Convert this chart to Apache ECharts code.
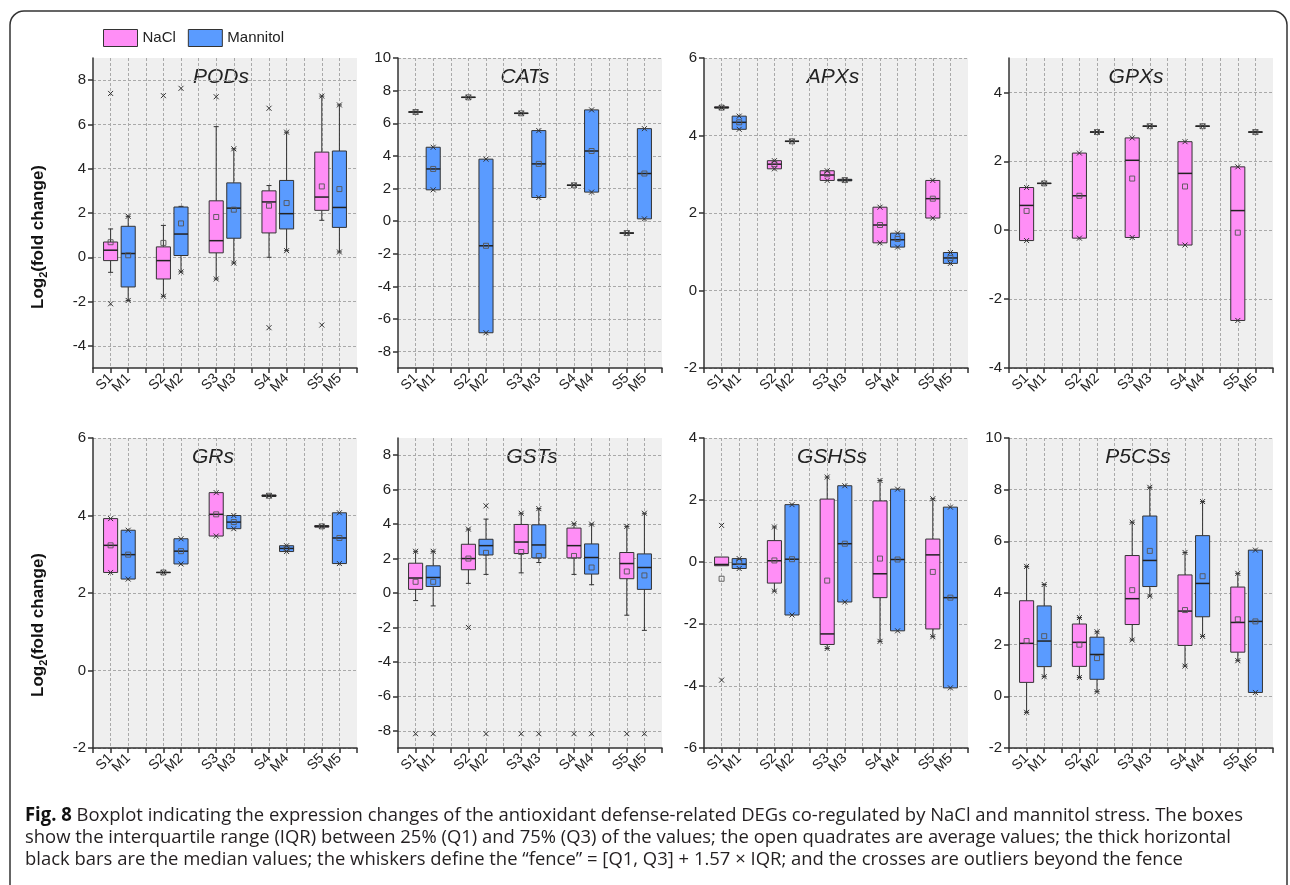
<!DOCTYPE html>
<html lang="en">
<head>
<meta charset="UTF-8" />
<title>Fig. 8</title>
<script src="https://cdn.jsdelivr.net/npm/echarts@6/dist/echarts.min.js"></script>
<style>html,body{margin:0;background:#fff;}#chart{width:1290px;height:885px;}</style>
</head>
<body>
<div id="chart"></div>
<script>
// x positions: S/M pairs with an empty slot between groups
const categories = ['', 'S1', 'M1', '', 'S2', 'M2', '', 'S3', 'M3', '', 'S4', 'M4', '', 'S5', 'M5', ''];
const legendNames = ['NaCl', 'Mannitol'];
const fills = ['#ff8ef6', '#5a9bff'];

// rows S1, M1, S2, M2 ... S5, M5 : [whisker low, Q1, median, Q3, whisker high, mean]
const pods = [
  [-0.68, -0.15, 0.32, 0.69, 1.28, 0.68], [-1.95, -1.34, 0.17, 1.40, 1.85, 0.09],
  [-1.76, -0.98, -0.15, 0.47, 1.44, 0.65], [-0.66, 0.08, 1.05, 2.27, 2.30, 1.53],
  [-0.98, 0.20, 0.75, 2.55, 5.90, 1.82], [-0.26, 0.86, 2.22, 3.36, 4.90, 2.15],
  [0.00, 1.10, 2.50, 3.00, 3.24, 2.33], [0.30, 1.28, 1.97, 3.47, 5.65, 2.45],
  [1.67, 2.12, 2.72, 4.75, 7.28, 3.20], [0.24, 1.35, 2.25, 4.80, 6.88, 3.08]
];
// crosses: [row, value]
const podsCross = [[0, 7.40], [0, -2.10], [1, 1.85], [1, -1.95], [2, 7.30], [2, -1.76], [3, 7.63], [3, -0.66],
  [4, 7.25], [4, -0.98], [5, 4.90], [5, -0.26], [6, 6.73], [6, -3.18], [7, 5.65], [7, 0.30],
  [8, 7.28], [8, -3.06], [9, 6.88], [9, 0.24]];
const podsTicks = [-4, -2, 0, 2, 4, 6, 8];

const cats = [
  [6.69, 6.69, 6.69, 6.69, 6.69, 6.69], [1.92, 1.92, 3.20, 4.53, 4.53, 3.20],
  [7.59, 7.59, 7.59, 7.59, 7.59, 7.59], [-6.84, -6.84, -1.51, 3.80, 3.80, -1.51],
  [6.61, 6.61, 6.61, 6.61, 6.61, 6.61], [1.45, 1.45, 3.51, 5.55, 5.55, 3.51],
  [2.20, 2.20, 2.20, 2.20, 2.20, 2.20], [1.78, 1.78, 4.30, 6.82, 6.82, 4.30],
  [-0.73, -0.73, -0.73, -0.73, -0.73, -0.73], [0.14, 0.14, 2.92, 5.67, 5.67, 2.92]
];
const catsCross = [[0, 6.69], [1, 4.53], [1, 1.92], [2, 7.59], [3, 3.80], [3, -6.84], [4, 6.61], [5, 5.55], [5, 1.45],
  [6, 2.20], [7, 6.82], [7, 1.78], [8, -0.73], [9, 5.67], [9, 0.14]];
const catsTicks = [-8, -6, -4, -2, 0, 2, 4, 6, 8, 10];

const apxs = [
  [4.71, 4.71, 4.72, 4.74, 4.74, 4.72], [4.16, 4.16, 4.34, 4.50, 4.50, 4.34],
  [3.14, 3.14, 3.26, 3.35, 3.35, 3.26], [3.85, 3.85, 3.85, 3.85, 3.85, 3.85],
  [2.84, 2.84, 2.98, 3.09, 3.09, 3.00], [2.83, 2.83, 2.85, 2.87, 2.87, 2.85],
  [1.23, 1.23, 1.69, 2.15, 2.15, 1.69], [1.12, 1.12, 1.31, 1.48, 1.48, 1.33],
  [1.87, 1.87, 2.37, 2.84, 2.84, 2.37], [0.70, 0.70, 0.84, 0.98, 0.98, 0.84]
];
const apxsCross = [[0, 4.72], [1, 4.50], [1, 4.16], [2, 3.35], [2, 3.14], [3, 3.85], [4, 3.09], [4, 2.84], [5, 2.85],
  [6, 2.15], [6, 1.23], [7, 1.48], [7, 1.12], [8, 2.84], [8, 1.87], [9, 0.98], [9, 0.70]];
const apxsTicks = [-2, 0, 2, 4, 6];

const gpxs = [
  [-0.30, -0.30, 0.72, 1.24, 1.24, 0.56], [1.36, 1.36, 1.36, 1.36, 1.36, 1.36],
  [-0.23, -0.23, 1.00, 2.24, 2.24, 1.00], [2.85, 2.85, 2.85, 2.85, 2.85, 2.85],
  [-0.21, -0.21, 2.03, 2.68, 2.68, 1.50], [3.02, 3.02, 3.02, 3.02, 3.02, 3.02],
  [-0.43, -0.43, 1.65, 2.57, 2.57, 1.27], [3.02, 3.02, 3.02, 3.02, 3.02, 3.02],
  [-2.62, -2.62, 0.57, 1.84, 1.84, -0.07], [2.85, 2.85, 2.85, 2.85, 2.85, 2.85]
];
const gpxsCross = [[0, 1.24], [0, -0.30], [1, 1.36], [2, 2.24], [2, -0.23], [3, 2.85], [4, 2.68], [4, -0.21], [5, 3.02],
  [6, 2.57], [6, -0.43], [7, 3.02], [8, 1.84], [8, -2.62], [9, 2.85]];
const gpxsTicks = [-4, -2, 0, 2, 4];

const grs = [
  [2.53, 2.53, 3.23, 3.92, 3.92, 3.23], [2.36, 2.36, 2.99, 3.62, 3.62, 2.99],
  [2.53, 2.53, 2.53, 2.53, 2.53, 2.53], [2.75, 2.75, 3.08, 3.40, 3.40, 3.08],
  [3.47, 3.47, 4.03, 4.59, 4.59, 4.03], [3.66, 3.66, 3.83, 4.00, 4.00, 3.83],
  [4.49, 4.49, 4.51, 4.53, 4.53, 4.51], [3.07, 3.07, 3.15, 3.22, 3.22, 3.15],
  [3.70, 3.70, 3.72, 3.74, 3.74, 3.72], [2.76, 2.76, 3.42, 4.07, 4.07, 3.42]
];
const grsCross = [[0, 3.92], [0, 2.53], [1, 3.62], [1, 2.36], [2, 2.53], [3, 3.40], [3, 2.75], [4, 4.59], [4, 3.47],
  [5, 4.00], [5, 3.66], [6, 4.51], [7, 3.22], [7, 3.07], [8, 3.72], [9, 4.07], [9, 2.76]];
const grsTicks = [-2, 0, 2, 4, 6];

const gsts = [
  [-0.44, 0.21, 0.87, 1.73, 2.42, 0.65], [-0.75, 0.38, 0.90, 1.58, 2.42, 0.65],
  [0.56, 1.35, 2.00, 2.83, 3.71, 2.00], [1.08, 2.21, 2.75, 3.12, 4.29, 2.33],
  [1.17, 2.29, 2.96, 3.98, 4.63, 2.38], [1.77, 2.04, 2.79, 3.96, 4.90, 2.15],
  [1.08, 2.04, 2.75, 3.77, 4.02, 2.15], [0.48, 1.10, 2.06, 2.85, 4.00, 1.48],
  [-1.29, 0.83, 1.71, 2.35, 3.87, 1.25], [-2.17, 0.21, 1.48, 2.27, 4.63, 1.02]
];
const gstsCross = [[0, 2.42], [0, -8.17], [1, 2.42], [1, -8.17], [2, 3.71], [2, -2.00], [3, 5.06], [3, -8.17],
  [4, 4.63], [4, -8.17], [5, 4.90], [5, -8.17], [6, 4.02], [6, -8.17], [7, 4.00], [7, -8.17],
  [8, 3.87], [8, -8.17], [9, 4.63], [9, -8.17]];
const gstsTicks = [-8, -6, -4, -2, 0, 2, 4, 6, 8];

const gshss = [
  [-0.12, -0.12, -0.08, 0.16, 0.16, -0.54], [-0.21, -0.21, -0.07, 0.11, 0.11, 0.00],
  [-0.94, -0.68, 0.04, 0.69, 1.13, 0.05], [-1.71, -1.71, 0.09, 1.85, 1.85, 0.09],
  [-2.79, -2.66, -2.32, 2.03, 2.74, -0.60], [-1.29, -1.29, 0.59, 2.46, 2.46, 0.59],
  [-2.56, -1.15, -0.38, 1.97, 2.63, 0.11], [-2.22, -2.22, 0.08, 2.35, 2.35, 0.08],
  [-2.41, -2.16, 0.23, 0.74, 2.04, -0.32], [-4.06, -4.06, -1.15, 1.77, 1.77, -1.15]
];
const gshssCross = [[0, 1.18], [0, -3.81], [1, 0.11], [1, -0.21], [2, 1.13], [2, -0.94], [3, 1.85], [3, -1.71],
  [4, 2.74], [4, -2.79], [5, 2.46], [5, -1.29], [6, 2.63], [6, -2.56], [7, 2.35], [7, -2.22],
  [8, 2.04], [8, -2.41], [9, 1.77], [9, -4.06]];
const gshssTicks = [-6, -4, -2, 0, 2, 4];

const p5css = [
  [-0.62, 0.54, 2.05, 3.70, 5.03, 2.14], [0.76, 1.15, 2.14, 3.50, 4.33, 2.33],
  [0.73, 1.16, 2.09, 2.80, 3.05, 2.00], [0.18, 0.66, 1.62, 2.29, 2.50, 1.48],
  [2.18, 2.78, 3.78, 5.45, 6.74, 4.11], [3.88, 4.25, 5.26, 6.98, 8.09, 5.63],
  [1.17, 1.97, 3.30, 4.70, 5.57, 3.34], [2.32, 3.08, 4.37, 6.22, 7.54, 4.65],
  [1.38, 1.71, 2.86, 4.23, 4.76, 2.98], [0.15, 0.15, 2.90, 5.66, 5.66, 2.90]
];
const p5cssCross = [[0, 5.03], [0, -0.62], [1, 4.33], [1, 0.76], [2, 3.05], [2, 0.73], [3, 2.50], [3, 0.18],
  [4, 6.74], [4, 2.18], [5, 8.09], [5, 3.88], [6, 5.57], [6, 1.17], [7, 7.54], [7, 2.32],
  [8, 4.76], [8, 1.38], [9, 5.66], [9, 0.15]];
const p5cssTicks = [-2, 0, 2, 4, 6, 8, 10];

const panels = [
  { title: 'PODs', stats: pods, cross: podsCross, min: -5, max: 9, ticks: podsTicks },
  { title: 'CATs', stats: cats, cross: catsCross, min: -9, max: 10, ticks: catsTicks },
  { title: 'APXs', stats: apxs, cross: apxsCross, min: -2, max: 6, ticks: apxsTicks },
  { title: 'GPXs', stats: gpxs, cross: gpxsCross, min: -4, max: 5, ticks: gpxsTicks },
  { title: 'GRs', stats: grs, cross: grsCross, min: -2, max: 6, ticks: grsTicks },
  { title: 'GSTs', stats: gsts, cross: gstsCross, min: -9, max: 9, ticks: gstsTicks },
  { title: 'GSHSs', stats: gshss, cross: gshssCross, min: -6, max: 4, ticks: gshssTicks },
  { title: 'P5CSs', stats: p5css, cross: p5cssCross, min: -2, max: 10, ticks: p5cssTicks }
];

const captionLead = 'Fig. 8';
const captionLines = [
  ' Boxplot indicating the expression changes of the antioxidant defense-related DEGs co-regulated by NaCl and mannitol stress. The boxes',
  'show the interquartile range (IQR) between 25% (Q1) and 75% (Q3) of the values; the open quadrates are average values; the thick horizontal',
  'black bars are the median values; the whiskers define the \u201cfence\u201d = [Q1, Q3] + 1.57 \u00d7 IQR; and the crosses are outliers beyond the fence'
];

// layout
const FONT = 'Liberation Sans';
const CAP_FONT = 'Open Sans';
const gridLefts = [93, 398, 704, 1009];
const gridTops = [58, 438];
const GW = 264, GH = 310;
const titleShift = [-4, -5, -3, -5, -12, 2, -4, -3];

const pos = g => 3 * Math.floor(g / 2) + 1 + (g % 2);

function renderBox(params, api) {
  const x = api.value(0);
  const pt = i => api.coord([x, api.value(i)]);
  const [lo, q1, md, q3, hi, mn] = [1, 2, 3, 4, 5, 6].map(pt);
  const cx = lo[0];
  const bw = api.size([1, 0])[0] * 0.8;
  const edge = { stroke: '#333', lineWidth: 1 };
  const kids = [];
  const seg = (y1, y2) => kids.push({ type: 'line', shape: { x1: cx, y1, x2: cx, y2 }, style: edge });
  const cap = y => kids.push({ type: 'line', shape: { x1: cx - 2.5, y1: y, x2: cx + 2.5, y2: y }, style: edge });
  if (hi[1] < q3[1] - 0.5) { seg(q3[1], hi[1]); cap(hi[1]); }
  if (lo[1] > q1[1] + 0.5) { seg(q1[1], lo[1]); cap(lo[1]); }
  kids.push({ type: 'rect', shape: { x: cx - bw / 2, y: q3[1], width: bw, height: Math.max(q1[1] - q3[1], 0) },
    style: { fill: api.visual('color'), stroke: '#333', lineWidth: 1 } });
  kids.push({ type: 'line', shape: { x1: cx - bw / 2, y1: md[1], x2: cx + bw / 2, y2: md[1] },
    style: { stroke: '#222', lineWidth: 1.5 } });
  kids.push({ type: 'rect', shape: { x: cx - 2.5, y: mn[1] - 2.5, width: 5, height: 5 },
    style: { fill: 'none', stroke: '#555', lineWidth: 0.9 } });
  return { type: 'group', children: kids };
}

function renderCross(params, api) {
  const p = api.coord([api.value(0), api.value(1)]);
  const r = 2.5, st = { stroke: '#333', lineWidth: 1 };
  return { type: 'group', children: [
    { type: 'line', shape: { x1: p[0] - r, y1: p[1] - r, x2: p[0] + r, y2: p[1] + r }, style: st },
    { type: 'line', shape: { x1: p[0] - r, y1: p[1] + r, x2: p[0] + r, y2: p[1] - r }, style: st }
  ] };
}

const grid = [], xAxis = [], yAxis = [], series = [], graphic = [];
const axisColor = '#333';
const dash = { type: [3, 2], color: '#a9a9a9', width: 1 };

panels.forEach((p, i) => {
  const left = gridLefts[i % 4], top = gridTops[Math.floor(i / 4)];
  grid.push({ left, top, width: GW, height: GH, show: true, backgroundColor: '#efefef', borderWidth: 0 });
  xAxis.push({
    type: 'category', gridIndex: i, data: categories, boundaryGap: false,
    axisLine: { onZero: false, lineStyle: { color: axisColor, width: 1.5 } },
    axisTick: { interval: 0, length: 5, lineStyle: { color: axisColor, width: 1.5 } },
    axisLabel: { interval: 0, rotate: 45, fontSize: 14, color: '#222', margin: 8, fontFamily: FONT },
    splitLine: { show: true, interval: idx => idx > 0 && idx < categories.length - 1, lineStyle: dash }
  });
  yAxis.push({
    type: 'value', gridIndex: i, min: p.min, max: p.max,
    axisLine: { show: true, lineStyle: { color: axisColor, width: 1.5 } },
    axisTick: { show: true, length: 5, customValues: p.ticks, lineStyle: { color: axisColor, width: 1.5 } },
    axisLabel: { customValues: p.ticks, fontSize: 15, color: '#222', margin: 7, fontFamily: FONT },
    splitLine: { show: true, lineStyle: dash }
  });
  legendNames.forEach((name, c) => {
    series.push({
      type: 'custom', name, xAxisIndex: i, yAxisIndex: i, renderItem: renderBox,
      itemStyle: { color: fills[c] }, encode: { x: 0, y: [1, 2, 3, 4, 5, 6] },
      data: p.stats.map((r, g) => [pos(g)].concat(r)).filter((_, g) => g % 2 === c)
    });
  });
  series.push({
    type: 'custom', xAxisIndex: i, yAxisIndex: i, renderItem: renderCross, z: 3,
    encode: { x: 0, y: 1 }, data: p.cross.map(([g, v]) => [pos(g), v])
  });
  graphic.push({
    type: 'text', x: left + GW / 2 + titleShift[i], y: top + 19,
    style: { text: p.title, font: 'italic 21px ' + FONT, fill: '#222',
      textAlign: 'center', textVerticalAlign: 'middle', align: 'center', verticalAlign: 'middle' }
  });
});

// y-axis labels for the two rows
[237, 625].forEach(cy => {
  graphic.push({
    type: 'text', x: 38, y: cy, rotation: Math.PI / 2,
    style: {
      text: '{m|Log}{s|2}{m|(fold change)}', fill: '#111',
      textAlign: 'center', textVerticalAlign: 'middle', align: 'center', verticalAlign: 'middle',
      rich: {
        m: { fontSize: 17, fontWeight: 'bold', fontFamily: FONT, lineHeight: 22, fill: '#111' },
        s: { fontSize: 11, fontWeight: 'bold', fontFamily: FONT, verticalAlign: 'bottom', fill: '#111' }
      }
    }
  });
});

// frame
graphic.push({
  type: 'rect', shape: { x: 10, y: 11, width: 1277, height: 900, r: 14 },
  style: { fill: 'none', stroke: '#333', lineWidth: 1.5 }, silent: true
});

// caption, condensed so the first line spans the figure; own layer so its font stays separate
const ctx = document.createElement('canvas').getContext('2d');
ctx.font = 'bold 19px ' + CAP_FONT;
const leadW = ctx.measureText(captionLead).width;
ctx.font = '19px ' + CAP_FONT;
const firstW = ctx.measureText(captionLines[0]).width;
const capScale = 1218 / (leadW + firstW);
captionLines.forEach((line, k) => {
  graphic.push({
    type: 'text', x: 25, y: 816 + k * 22, scaleX: capScale, zlevel: 1,
    style: {
      text: k === 0 ? '{b|' + captionLead + '}{n|' + line + '}' : line,
      font: '19px ' + CAP_FONT, fill: '#231f20',
      textVerticalAlign: 'middle', verticalAlign: 'middle',
      rich: {
        b: { fontSize: 19, fontWeight: 'bold', fontFamily: CAP_FONT, fill: '#111' },
        n: { fontSize: 19, fontFamily: CAP_FONT, fill: '#231f20' }
      }
    }
  });
});

const chart = echarts.init(document.getElementById('chart'));
chart.setOption({
  animation: false,
  textStyle: { fontFamily: FONT },
  legend: {
    left: 98, top: 24, itemWidth: 34, itemHeight: 17, itemGap: 12, selectedMode: false,
    textStyle: { fontSize: 15, color: '#222', fontFamily: FONT },
    data: legendNames.map((name, c) => ({ name, icon: 'rect', itemStyle: { color: fills[c], borderColor: '#333', borderWidth: 1 } }))
  },
  grid, xAxis, yAxis, series, graphic
});
</script>
</body>
</html>
